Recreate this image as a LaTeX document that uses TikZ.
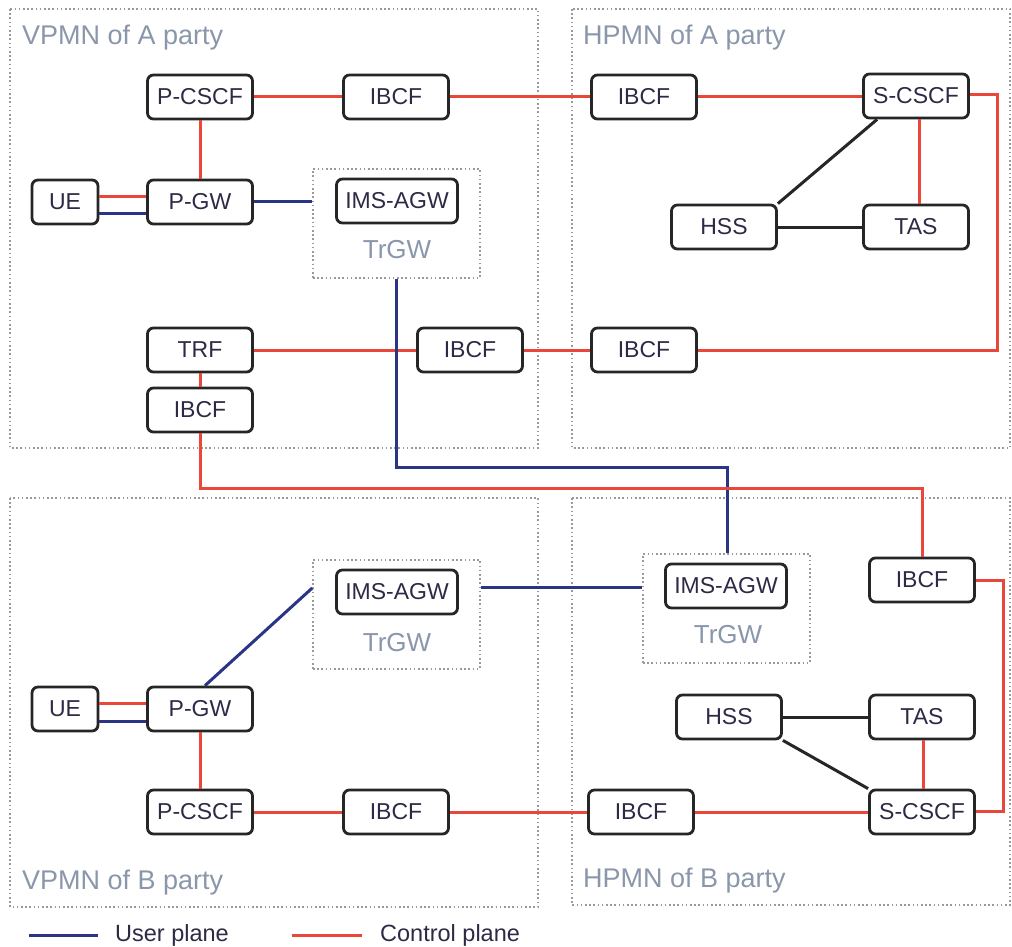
\documentclass[tikz,border=0pt]{standalone}
\usepackage{fontspec}
\setmainfont{Liberation Sans}
\usetikzlibrary{calc}
\definecolor{ctrlred}{HTML}{E8473A}
\definecolor{userblue}{HTML}{2B3585}
\definecolor{lblgray}{HTML}{8A97AB}
\definecolor{dotgray}{HTML}{9A9A9A}
\definecolor{txtdark}{HTML}{2E2A45}
\tikzset{
  nf/.style={draw=black!85, line width=2.8pt, rounded corners=6pt, fill=white,
    minimum width=105pt, minimum height=44pt, inner sep=0pt,
    font=\fontsize{23}{25}\selectfont, text=txtdark},
  region/.style={draw=dotgray, line width=1.5pt, dash pattern=on 1.6pt off 2.6pt},
  trbox/.style={draw=dotgray, line width=1.5pt, dash pattern=on 1.6pt off 2.6pt,
    minimum width=167pt, minimum height=109pt, inner sep=0pt},
  reglabel/.style={anchor=base west, inner sep=0pt, text=lblgray, font=\fontsize{27}{29}\selectfont},
  trlabel/.style={inner sep=0pt, text=lblgray, font=\fontsize{26}{28}\selectfont},
  ctrl/.style={draw=ctrlred, line width=3pt},
  user/.style={draw=userblue, line width=3pt},
  blackline/.style={draw=black!85, line width=3pt},
  legtext/.style={anchor=west, inner sep=0pt, text=txtdark, font=\fontsize{23.5}{25}\selectfont}
}
\begin{document}
\begin{tikzpicture}[x=1pt,y=-1pt]
\useasboundingbox[fill=white] (0,0) rectangle (1012,947);
% regions
\draw[region] (10,9) rectangle (538,448);
\draw[region] (572,9) rectangle (1010,448);
\draw[region] (10,498) rectangle (538,907);
\draw[region] (572,498) rectangle (1010,905);
\node[reglabel] (lva) at (22,45) {VPMN of A party};
\node[reglabel] (lha) at (583,45) {HPMN of A party};
\node[reglabel] (lvb) at (22,889) {VPMN of B party};
\node[reglabel] (lhb) at (583,887) {HPMN of B party};
% TrGW boxes
\node[trbox] (trA) at (396.5,223.5) {};
\node[trbox] (trB1) at (396.5,614.5) {};
\node[trbox] (trB2) at (726.5,608.5) {};
\node[trlabel] (trlA) at (397,250) {TrGW};
\node[trlabel] (trlB1) at (397,643) {TrGW};
\node[trlabel] (trlB2) at (728,635) {TrGW};
% VPMN A
\node[nf] (pcscfA) at (200,97) {P-CSCF};
\node[nf] (ibcfA1) at (396,97) {IBCF};
\node[nf, minimum width=66pt] (ueA) at (65,202) {UE};
\node[nf] (pgwA) at (200,202) {P-GW};
\node[nf, minimum width=121pt] (agwA) at (397,201) {IMS-AGW};
\node[nf] (trf) at (200,350) {TRF};
\node[nf] (ibcfA2) at (200,410) {IBCF};
\node[nf] (ibcfA3) at (470,350) {IBCF};
% HPMN A
\node[nf] (ibcfA4) at (644,97) {IBCF};
\node[nf] (scscfA) at (916,96) {S-CSCF};
\node[nf] (hssA) at (724,227) {HSS};
\node[nf] (tasA) at (916,227) {TAS};
\node[nf] (ibcfA5) at (644,350) {IBCF};
% VPMN B
\node[nf, minimum width=121pt] (agwB1) at (397,592) {IMS-AGW};
\node[nf, minimum width=66pt] (ueB) at (65,709) {UE};
\node[nf] (pgwB) at (200,709) {P-GW};
\node[nf] (pcscfB) at (200,812) {P-CSCF};
\node[nf] (ibcfB1) at (396,812) {IBCF};
% HPMN B
\node[nf, minimum width=121pt] (agwB2) at (726,586) {IMS-AGW};
\node[nf] (ibcfB2) at (922,580) {IBCF};
\node[nf] (hssB) at (729,717) {HSS};
\node[nf] (tasB) at (922,717) {TAS};
\node[nf] (scscfB) at (922,812) {S-CSCF};
\node[nf] (ibcfB3) at (641,812) {IBCF};
% VPMN A links
\draw[ctrl] (pcscfA) -- (ibcfA1);
\draw[ctrl] (ibcfA1) -- (ibcfA4);
\draw[ctrl] (ibcfA4) -- (scscfA.west |- 0,97);
\draw[ctrl] (pcscfA) -- (pgwA);
\draw[ctrl] (ueA.east |- 0,196) -- (pgwA.west |- 0,196);
\draw[user] (ueA.east |- 0,213) -- (pgwA.west |- 0,213);
\draw[user] (pgwA.east |- 0,201) -- (trA.west |- 0,201);
\draw[ctrl] (trf) -- (ibcfA3);
\draw[ctrl] (trf) -- (ibcfA2);
\draw[ctrl] (ibcfA3) -- (ibcfA5);
\draw[user] (trA.south -| 396,0) -- (396,467) -- (727,467) -- (trB2.north -| 727,0);
\draw[ctrl] (ibcfA5.east) -- (997,350) -- (997,95) -- (scscfA.east |- 0,95);
\draw[ctrl] (scscfA.south -| 919,0) -- (tasA.north -| 919,0);
\draw[blackline] (scscfA.south west) ++(15,0) coordinate (sA) (sA) -- (hssA.north east);
\draw[blackline] (hssA) -- (tasA);
\draw[ctrl] (ibcfA2.south) -- (200,488) -- (922,488) -- (ibcfB2.north);
% B side
\draw[ctrl] (ibcfB2.east) -- (1003,580) -- (1003,811) -- (scscfB.east |- 0,811);
\draw[user] (trB1.east |- 0,587) -- (trB2.west |- 0,587);
\draw[user] (pgwB.north -| 205,0) -- (trB1.west |- 0,588);
\draw[ctrl] (ueB.east |- 0,703) -- (pgwB.west |- 0,703);
\draw[user] (ueB.east |- 0,721) -- (pgwB.west |- 0,721);
\draw[ctrl] (pgwB) -- (pcscfB);
\draw[ctrl] (pcscfB) -- (ibcfB1);
\draw[ctrl] (ibcfB1) -- (ibcfB3);
\draw[ctrl] (ibcfB3) -- (scscfB);
\draw[ctrl] (tasB.south -| 923,0) -- (scscfB.north -| 923,0);
\draw[blackline] (hssB) -- (tasB);
\draw[blackline] (hssB.south east) -- (scscfB.north west);
% legend
\draw[user] (29,935) coordinate (lu1) -- (98,935) coordinate (lu2);
\node[legtext] (lgu) at (115,935) {User plane};
\draw[ctrl] (292,935) coordinate (lc1) -- (362,935) coordinate (lc2);
\node[legtext] (lgc) at (380,935) {Control plane};
\end{tikzpicture}
\end{document}
